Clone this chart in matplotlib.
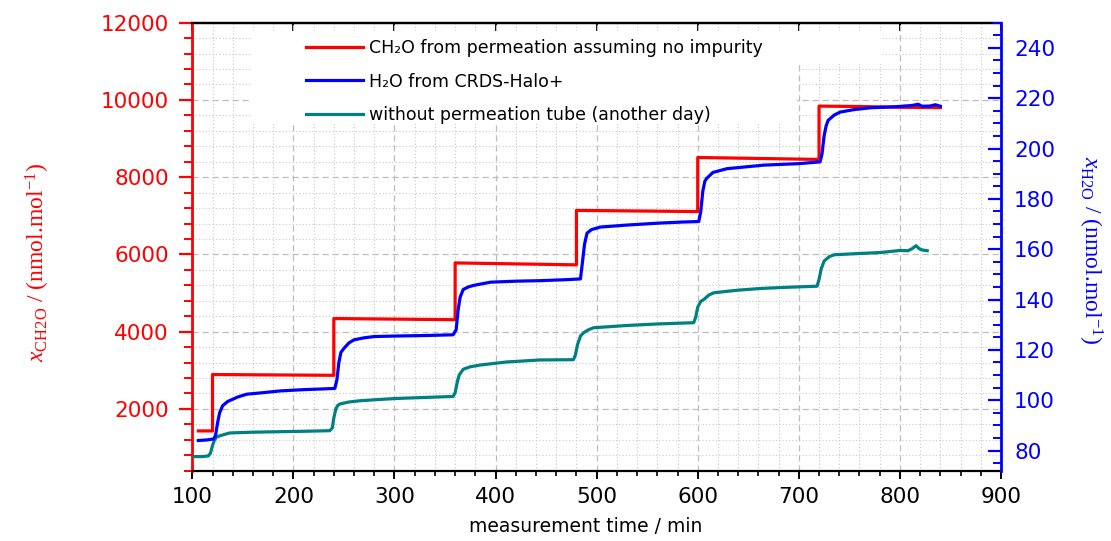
import matplotlib
matplotlib.use("Agg")
import matplotlib.pyplot as plt
from matplotlib.patches import Rectangle
from matplotlib.ticker import MultipleLocator

# CH2O from permeation (left axis, nmol/mol)
ch2o_time = [106, 120, 120, 240, 240, 360, 360, 480, 480, 600, 600, 720, 720, 760, 800, 840]
ch2o_value = [1430, 1430, 2890, 2870, 4340, 4310, 5780, 5730, 7140, 7110, 8510, 8460, 9840, 9830, 9810, 9800]

# H2O from CRDS-Halo+ (right axis, nmol/mol)
h2o_time = [106, 114, 121, 123, 125, 127, 130, 135, 145, 154, 170, 187, 210, 230, 241,
            243, 245, 247, 250, 255, 260, 270, 280, 300, 330, 358,
            361, 363, 365, 368, 373, 378, 395, 420, 444, 470, 484,
            486, 488, 490.5, 495, 503.6, 530, 563, 585, 601,
            603, 605, 607, 609, 615, 629, 665, 700, 721,
            723, 725, 727, 729, 735, 741, 755, 771, 795, 805, 812, 818, 822, 830, 835, 840]
h2o_value = [84.0, 84.2, 84.6, 86, 91, 95, 97.8, 99.5, 101.3, 102.4, 103.0, 103.7, 104.2, 104.5, 104.7,
             108, 115, 119, 120.6, 122.8, 124.0, 124.8, 125.3, 125.5, 125.7, 126.0,
             128, 136, 141, 144, 145, 145.6, 146.9, 147.3, 147.5, 147.9, 148.2,
             155, 162, 166.4, 167.8, 168.8, 169.6, 170.4, 170.8, 171.0,
             175, 183, 187, 188.2, 190.5, 192, 193.4, 194.0, 194.7,
             198, 205, 209, 211.2, 213.3, 214.5, 215.5, 216.2, 216.6, 216.9, 217.1, 217.6, 216.8, 216.9, 217.4, 216.8]

# without permeation tube, another day (right axis)
blank_time = [101.7, 110, 116, 118, 120, 122, 124, 127.4, 137, 160, 187, 215, 236,
              238.5, 240, 242, 244, 246, 255, 266, 285, 302, 330, 358,
              360, 362, 364, 368, 375, 385, 411, 444, 477,
              479, 481, 484, 487, 492, 497, 530, 560, 596,
              598, 600, 603, 606, 611, 616, 639, 662, 690, 718,
              720, 722, 725, 730, 735, 760, 781, 800, 808, 812, 816, 819, 822, 827]
blank_value = [77.6, 77.6, 77.9, 79, 82, 84.3, 85.3, 85.9, 87.0, 87.3, 87.5, 87.7, 87.9,
               89, 93, 96.5, 98, 98.5, 99.3, 99.8, 100.3, 100.7, 101.1, 101.5,
               103, 107, 110, 112.3, 113.3, 114.0, 115.2, 116.0, 116.1,
               118, 122, 125.5, 126.8, 128.0, 128.8, 129.7, 130.3, 130.8,
               133, 137, 139.3, 140.0, 141.8, 142.7, 143.7, 144.4, 144.9, 145.3,
               148, 152, 155.3, 157, 157.8, 158.3, 158.7, 159.5, 159.4, 160.2, 161.4, 160.2, 159.7, 159.4]

legend_labels = [
    "CH\u2082O from permeation assuming no impurity",
    "H\u2082O from CRDS-Halo+",
    "without permeation tube (another day)",
]

plt.rcParams["mathtext.fontset"] = "custom"
plt.rcParams["mathtext.rm"] = "Liberation Serif"
plt.rcParams["mathtext.it"] = "Liberation Serif:italic"
plt.rcParams["font.family"] = "DejaVu Sans"

W, H = 1111, 541
fig = plt.figure(figsize=(W / 100, H / 100), dpi=100)
x0, x1, y0, y1 = 192.3, 1001, 22.7, 470.7
ax = fig.add_axes([x0 / W, 1 - y1 / H, (x1 - x0) / W, (y1 - y0) / H])
ax2 = ax.twinx()

red, blue, teal = "#ff0000", "#0000ff", "#008080"

# data
l1, = ax.plot(ch2o_time, ch2o_value, color=red, lw=2.3, zorder=3)
l2, = ax2.plot(h2o_time, h2o_value, color=blue, lw=2.3, zorder=3)
l3, = ax2.plot(blank_time, blank_value, color=teal, lw=2.3, zorder=2)

ax.set_xlim(100, 900)
ax.set_ylim(400, 12000)
ax2.set_ylim(72, 250)

# grid
ax.set_axisbelow(True)
ax.xaxis.set_major_locator(MultipleLocator(100))
ax.xaxis.set_minor_locator(MultipleLocator(20))
ax.yaxis.set_major_locator(MultipleLocator(2000))
ax.yaxis.set_minor_locator(MultipleLocator(400))
ax.grid(which="major", color="#bdbdbd", lw=0.9, ls=(0, (5, 3)))
ax.grid(which="minor", color="#c8c8c8", lw=0.8, ls=(0, (1, 2)))

# white box behind legend hides the grid
ax.add_patch(Rectangle((0.0738, 0.7739), 0.674, 0.2076, transform=ax.transAxes,
                       facecolor="white", edgecolor="none", zorder=0.8))
ax.add_patch(Rectangle((0.7478, 0.9078), 0.1039, 0.0737, transform=ax.transAxes,
                       facecolor="white", edgecolor="none", zorder=0.8))

# spines
ax.spines["left"].set_color(red)
ax.spines["left"].set_linewidth(2)
ax.spines["bottom"].set_linewidth(1.6)
ax.spines["top"].set_linewidth(1.6)
ax.spines["right"].set_visible(False)
for s in ["left", "top", "bottom"]:
    ax2.spines[s].set_visible(False)
ax2.spines["right"].set_color(blue)
ax2.spines["right"].set_linewidth(2)

# ticks
ax.tick_params(axis="y", which="major", direction="out", length=9.3, width=1.6,
               color=red, labelcolor=red, labelsize=15.5, pad=7.5)
ax.tick_params(axis="y", which="minor", direction="out", length=5.5, width=1.4, color=red)
ax.tick_params(axis="x", which="major", direction="out", length=5.8, width=1.4,
               labelsize=15.5, pad=6)
ax.tick_params(axis="x", which="minor", direction="out", length=3.6, width=1.2)

ax2.yaxis.set_major_locator(MultipleLocator(20))
ax2.yaxis.set_minor_locator(MultipleLocator(5))
ax2.tick_params(axis="y", which="major", direction="in", length=9.3, width=1.6,
                color=blue, labelcolor=blue, labelsize=15.5, pad=9.4)
ax2.tick_params(axis="y", which="minor", direction="in", length=5.5, width=1.4, color=blue)

top = ax.secondary_xaxis("top")
top.xaxis.set_major_locator(MultipleLocator(100))
top.tick_params(direction="in", length=5.8, width=1.4, labeltop=False)
top.spines["top"].set_linewidth(1.6)

# labels
fig.text(586 / W, 1 - 527 / H, "measurement time / min", fontsize=13.5,
         ha="center", va="center")
fig.text(38 / W, 1 - 262 / H, r"$\mathit{x}_{\mathrm{CH2O}}$ / (nmol.mol$^{-1}$)",
         rotation=90, color=red, fontsize=17, family="Liberation Serif",
         ha="center", va="center")
fig.text(1090 / W, 1 - 250 / H, r"$\mathit{x}_{\mathrm{H2O}}$ / (nmol.mol$^{-1}$)",
         rotation=-90, color=blue, fontsize=17, family="Liberation Serif",
         ha="center", va="center")

leg = ax2.legend([l1, l2, l3], legend_labels, loc="upper left",
                 bbox_to_anchor=(0.1406, 0.963), borderaxespad=0, borderpad=0,
                 frameon=False, fontsize=12.5, handlelength=3.3, handletextpad=0.3,
                 labelspacing=0.88)

fig.savefig("out.png", dpi=100)
